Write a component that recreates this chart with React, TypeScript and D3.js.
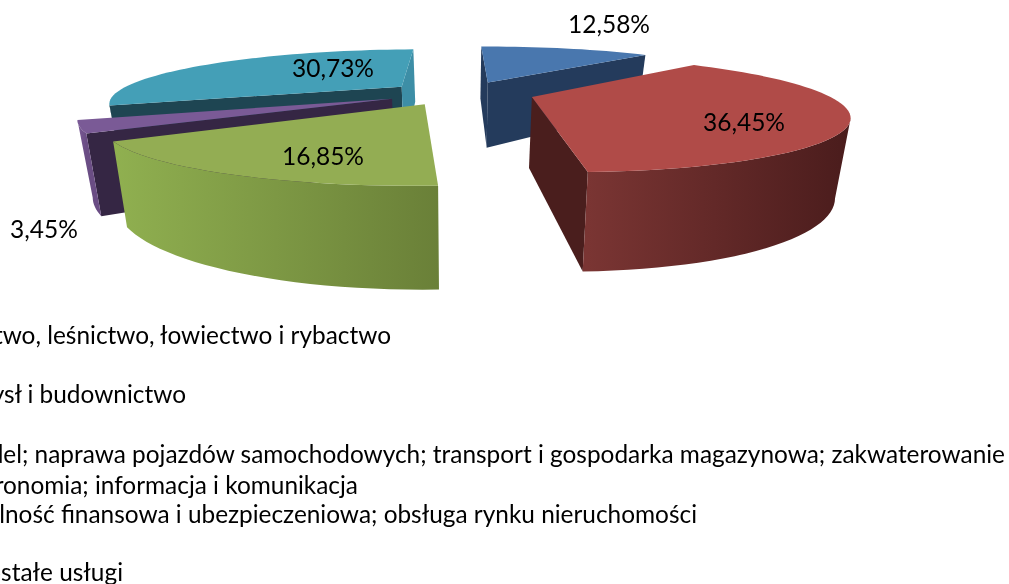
import React from "react";
import * as d3 from "d3";

const categories = [
  "Rolnictwo, leśnictwo, łowiectwo i rybactwo",
  "Przemysł i budownictwo",
  "Handel; naprawa pojazdów samochodowych; transport i gospodarka magazynowa; zakwaterowanie i gastronomia; informacja i komunikacja",
  "Działalność finansowa i ubezpieczeniowa; obsługa rynku nieruchomości",
  "Pozostałe usługi",
];
const sharesPct = [12.58, 36.45, 16.85, 3.45, 30.73];
const sliceLabels = ["12,58%", "36,45%", "16,85%", "3,45%", "30,73%"];
const legendLines = [
  "Rolnictwo, leśnictwo, łowiectwo i rybactwo",
  "Przemysł i budownictwo",
  "Handel; naprawa pojazdów samochodowych; transport i gospodarka magazynowa; zakwaterowanie",
  "i gastronomia; informacja i komunikacja",
  "Działalność finansowa i ubezpieczeniowa; obsługa rynku nieruchomości",
  "Pozostałe usługi",
];

// slice order: blue, red, green, purple, teal
const topColors = ["#4977ae", "#b04b48", "#93ad53", "#7a5a96", "#449fb7"];
const cutStartColors = ["#243b5c", "#4a1e1d", "#6a8038", "#352644", "#1e4552"];
const cutEndColors = ["#243b5c", "#4a1e1d", "#6a8038", "#352644", "#3d8ea6"];
const wallLeftColors = ["#2e4d74", "#7a3533", "#90b050", "#7a5a96", "#1e4552"];
const wallRightColors = ["#243b5c", "#4a1c1c", "#6a8038", "#6a4d84", "#1e4552"];
const paintOrder = [4, 0, 3, 1, 2];
const labelCenters: [number, number][] = [
  [609, 23], [744, 121], [323, 155], [44, 228], [333, 67],
];
const legendRightEnds = [391, 186, 1005, 358, 697, 123];
const legendBaselines = [344, 403, 463, 494, 523, 581];

const W = 1009, H = 584;
const START = (3.2 * Math.PI) / 180;
const Q = 0.27, EXPLODE = 0.24, E0 = 0.195, VX = 400, AX = 310, HY = -90, BY = 183, DEPTH = 69, LEAN = 0.04, LEANX = 460;
const R_EAST = 0.915, R_WEST = 0.945, R_S = 1.035, TILT = 0.012;

type P = [number, number];
function project(e: number, s: number, z: number): P {
  const w = 1 - Q * s;
  const x = VX + (AX * (e + E0)) / w;
  const y = HY + BY / w + (z * DEPTH) / w + TILT * (LEANX - x);
  return [LEANX + (x - LEANX) * (1 - LEAN * z), y];
}
const line = d3.line<P>();

function faceVisible(a: P, b: P, interior: P) {
  const ex = b[0] - a[0], ey = b[1] - a[1];
  const inn = ex * (interior[1] - a[1]) - ey * (interior[0] - a[0]);
  return ex * inn < 0;
}

const arcs = d3.pie<number>().sort(null).startAngle(START).endAngle(START + 2 * Math.PI)(sharesPct);

function buildSlice(i: number) {
  const a = arcs[i];
  const mid = (a.startAngle + a.endAngle) / 2;
  const ce = EXPLODE * Math.sin(mid), cs = -EXPLODE * Math.cos(mid);
  const pt = (t: number, z: number, r = 1) => {
    const se = Math.sin(t);
    return project(ce + r * se * (se > 0 ? R_EAST : R_WEST), cs - r * R_S * Math.cos(t), z);
  };
  const n = Math.max(8, Math.round(((a.endAngle - a.startAngle) / Math.PI) * 80));
  const thetas = d3.range(n + 1).map((k) => a.startAngle + ((a.endAngle - a.startAngle) * k) / n);
  const apex = pt(0, 0, 0);
  const apexB = pt(0, 1, 0);
  const top = line([apex, ...thetas.map((t) => pt(t, 0))]) + "Z";

  const walls: string[] = [];
  let run: number[] = [];
  const flush = () => {
    if (run.length > 1) {
      walls.push(line([...run.map((t) => pt(t, 0)), ...run.slice().reverse().map((t) => pt(t, 1))]) + "Z");
    }
    run = [];
  };
  let xs: number[] = [];
  for (let k = 0; k < n; k++) {
    const p = pt(thetas[k], 0), q = pt(thetas[k + 1], 0);
    if (faceVisible(p, q, apex)) {
      if (!run.length) run.push(thetas[k]);
      run.push(thetas[k + 1]);
      xs.push(p[0], q[0]);
    } else flush();
  }
  flush();

  const midP = pt(mid, 0);
  const cut = (t: number) => {
    const p = pt(t, 0);
    if (!faceVisible(apex, p, midP)) return null;
    return line([apex, p, pt(t, 1), apexB]) + "Z";
  };
  return {
    top, walls,
    x0: d3.min(xs) ?? 0, x1: d3.max(xs) ?? 1,
    cutStart: cut(a.startAngle), cutEnd: cut(a.endAngle),
  };
}

export default function App() {
  const slices = sharesPct.map((_, i) => buildSlice(i));
  return (
    <svg width={W} height={H} viewBox={`0 0 ${W} ${H}`} style={{ position: "absolute", left: 0, top: 0, background: "#fff" }}>
      <title>{categories.join(" / ")}</title>
      <defs>
        {slices.map((s, i) => (
          <linearGradient key={i} id={`wall${i}`} gradientUnits="userSpaceOnUse" x1={s.x0} x2={s.x1} y1={0} y2={0}>
            <stop offset="0" stopColor={wallLeftColors[i]} />
            <stop offset="1" stopColor={wallRightColors[i]} />
          </linearGradient>
        ))}
        <filter id="soft" x="-2%" y="-20%" width="104%" height="140%">
          <feGaussianBlur stdDeviation="0.45" />
        </filter>
      </defs>
      {paintOrder.map((i) => {
        const s = slices[i];
        return (
          <g key={i}>
            {s.cutStart && <path d={s.cutStart} fill={cutStartColors[i]} />}
            {s.cutEnd && <path d={s.cutEnd} fill={cutEndColors[i]} />}
            {s.walls.map((d, k) => <path key={k} d={d} fill={`url(#wall${i})`} />)}
            <path d={s.top} fill={topColors[i]} />
          </g>
        );
      })}
      <g fontFamily="Lato" fill="#000" filter="url(#soft)">
        {sliceLabels.map((t, i) => (
          <text key={t} x={labelCenters[i][0]} y={labelCenters[i][1]} fontSize={24.5} textAnchor="middle" dominantBaseline="central">{t}</text>
        ))}
        {legendLines.map((t, i) => (
          <text key={t} x={legendRightEnds[i]} y={legendBaselines[i]} fontSize={24.4} textAnchor="end">{t}</text>
        ))}
      </g>
    </svg>
  );
}
